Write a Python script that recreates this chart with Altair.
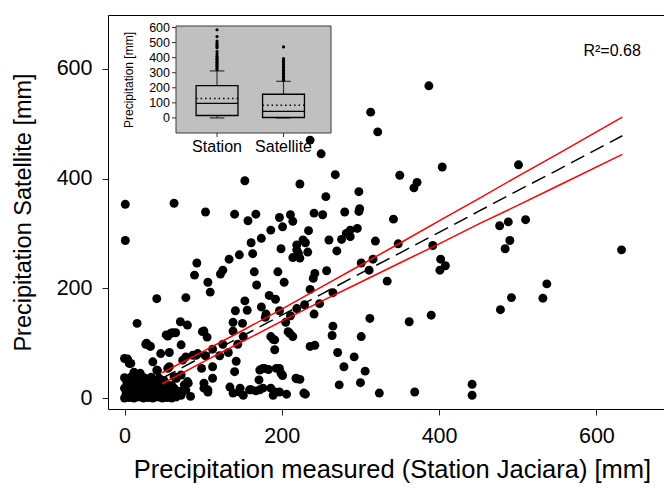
import altair as alt
import pandas as pd

FONT = "Liberation Sans"

# --- Scatter: station rainfall (x) vs satellite estimate (y), mm ---
station_mm = [
    501, 477, 488, 510, 490, 484, 632, 537, 532, 492, 478,
    387, 313, 322, 236, 250, 404, 268, 350, 372, 368, 223, 298, 256, 241, 252,
    280, 298, 299, 342, 234, 227, 230, 260, 276, 287, 287, 296, 282, 319, 348,
    392, 270, 233, 223, 301, 316, 311, 402, 408, 401, 257, 242, 240, 236, 334,
    265, 229, 248, 241, 312, 362, 390, 265, 264, 301, 236, 242, 271, 292, 279,
    306, 223, 273, 300, 230, 324, 369, 442, 442, 219, 221,
    153, 103, 140, 167, 157, 197, 211, 214, 201, 186, 174, 161, 163, 146, 133,
    199, 219, 214, 125, 122, 106, 109, 165, 168, 195, 203, 184, 192, 153, 141,
    156, 174, 180, 179, 197, 219, 205, 211, 138, 150, 151, 138, 144, 101, 186,
    189, 191, 208, 214, 125, 112, 132, 121, 103, 142, 140, 112, 98, 112, 176,
    183, 197, 201, 171, 219, 134, 147, 161, 172, 186, 189, 197, 206, 101, 106,
    138, 151,
    1, 63, 1, 92, 89, 41, 78, 16, 71, 80,
    59, 55, 65, 99, 105, 27, 33, 72, 46, 57, 91, 4, 8, 36, 42, 57, 74, 78, 87,
    63, 72, 80, 101, 106, 146, 159, 167, 176, 191, 172, 178, 193, 199, 218, 228,
    191, 210, 93, 41, 55, 66, 81, 0, 6, 53, 61, 28, 32,
    # dense block of small months near the origin
    0, 6, 12, 18, 24, 30, 36, 42, 48, 54, 60, 66,
    2, 9, 16, 23, 30, 37, 44, 51, 58, 65,
    0, 7, 14, 21, 28, 35, 42, 49, 56, 63,
    3, 10, 17, 24, 31, 38, 45, 52,
    0, 8, 16, 25, 34, 44,
    72, 78, 84, 76, 20, 12,
    3, 15, 27, 39, 51, 63,
    4, 19, 33, 47, 61, 70,
    6, 20, 34, 48, 60,
    5, 20, 36, 50,
]
satellite_mm = [
    425, 314, 321, 325, 287, 272, 270, 208, 182, 183, 161,
    569, 521, 485, 470, 445, 421, 407, 406, 393, 383, 390, 376, 367, 337, 334,
    339, 340, 345, 326, 305, 288, 283, 288, 289, 294, 306, 309, 300, 286, 281,
    278, 268, 266, 255, 246, 253, 233, 253, 241, 233, 232, 227, 218, 198, 213,
    192, 170, 172, 153, 145, 139, 151, 131, 114, 112, 94, 96, 83, 75, 57,
    49, 34, 24, 28, 7, 9, 11, 25, 5, 279, 264,
    396, 339, 335, 335, 323, 329, 334, 322, 312, 306, 291, 283, 263, 261, 253,
    272, 270, 256, 233, 226, 211, 193, 230, 206, 230, 211, 187, 180, 177, 159,
    160, 166, 153, 147, 159, 163, 138, 150, 138, 136, 112, 122, 98, 122, 112,
    107, 88, 121, 112, 98, 89, 83, 77, 77, 67, 48, 57, 54, 36, 54,
    52, 54, 41, 33, 35, 20, 18, 15, 15, 18, 5, 11, 7, 27, 15,
    9, 5,
    353, 355, 287, 246, 224, 181, 183, 136, 139, 133,
    118, 113, 119, 121, 111, 98, 94, 97, 81, 83, 78, 71, 63, 66, 50, 57, 69, 75, 78,
    39, 42, 30, 18, 11, 11, 15, 13, 18, 11, 51, 54, 54, 45, 36, 9,
    106, 118, 81, 51, 54, 36, 27, 72, 63, 115, 119, 100, 95,
    0, 1, 0, 2, 0, 1, 0, 2, 0, 1, 0, 2,
    9, 8, 10, 8, 9, 10, 8, 9, 10, 8,
    18, 17, 19, 18, 17, 19, 18, 17, 19, 18,
    28, 27, 29, 28, 27, 29, 28, 27,
    37, 38, 36, 37, 38, 36,
    5, 14, 3, 24, 45, 47,
    4, 4, 5, 4, 5, 4,
    13, 13, 14, 13, 13, 12,
    23, 23, 22, 23, 23,
    32, 32, 31, 32,
]

# --- Linear fit and its 95% confidence band ---
fit_x = [48, 100, 150, 200, 250, 300, 350, 400, 450, 500, 550, 633]
fit_mid = [36, 76, 113, 151, 189, 227, 264, 302, 340, 378, 415, 478]
fit_upper = [46, 85, 123, 162, 202, 242, 282, 323, 363, 404, 444, 512]
fit_lower = [26, 66, 103, 140, 176, 211, 246, 281, 317, 351, 386, 444]

r2_label = "R²=0.68"

# --- Inset box plot summary (mm) ---
box_names = ["Station", "Satellite"]
box_pos = [1, 2]
box_q1 = [16, 3]
box_median = [96, 44]
box_q3 = [215, 157]
box_mean = [129, 84]
box_low = [0, 0]
box_high = [312, 243]
station_outliers = [585, 540, 510, 495, 485, 475, 465, 440, 425, 410, 400,
                    390, 380, 370, 360, 350, 340, 330, 320]
satellite_outliers = [471, 394, 385, 375, 365, 355, 345, 335, 325, 315, 305,
                      295, 285, 275, 265, 255, 248]
inset_ticks = [0, 100, 200, 300, 400, 500, 600]

X_DOM = [-21, 686]
Y_DOM = [-20, 698]
IX_DOM = [0.383, 2.714]
IY_DOM = [-100, 610]

# ---------------- main scatter ----------------
scatter_df = pd.DataFrame({"station": station_mm, "satellite": satellite_mm})
fit_df = pd.DataFrame({"x": fit_x, "mid": fit_mid, "up": fit_upper, "lo": fit_lower})

xs = alt.Scale(domain=X_DOM, nice=False, zero=False)
ys = alt.Scale(domain=Y_DOM, nice=False, zero=False)

x_axis = alt.Axis(values=[0, 200, 400, 600], title="Precipitation measured (Station Jaciara) [mm]",
                  titlePadding=11, titleFontSize=25.5, titleX=284)
y_axis = alt.Axis(values=[0, 200, 400, 600], title="Precipitation Satellite [mm]",
                  titlePadding=21, titleFontSize=23.5)

points = alt.Chart(scatter_df).mark_circle(size=80, color="black", opacity=1).encode(
    x=alt.X("station:Q", scale=xs, axis=x_axis),
    y=alt.Y("satellite:Q", scale=ys, axis=y_axis),
)

upper_line = alt.Chart(fit_df).mark_line(color="#ff0000", strokeWidth=1.5).encode(
    x=alt.X("x:Q", scale=xs), y=alt.Y("up:Q", scale=ys))
lower_line = alt.Chart(fit_df).mark_line(color="#ff0000", strokeWidth=1.5).encode(
    x=alt.X("x:Q", scale=xs), y=alt.Y("lo:Q", scale=ys))
mid_line = alt.Chart(fit_df).mark_line(color="black", strokeWidth=1.5, strokeDash=[15, 7]).encode(
    x=alt.X("x:Q", scale=xs), y=alt.Y("mid:Q", scale=ys))

r2_text = alt.Chart(pd.DataFrame({"x": [620], "y": [633], "t": [r2_label]})).mark_text(
    font=FONT, fontSize=16, color="black", align="center", baseline="middle"
).encode(x=alt.X("x:Q", scale=xs), y=alt.Y("y:Q", scale=ys), text="t:N")

main = alt.layer(points, upper_line, lower_line, mid_line, r2_text)

# ---------------- inset box plot ----------------
ixs = alt.Scale(domain=IX_DOM, range=[68, 223], nice=False, zero=False)
iys = alt.Scale(domain=IY_DOM, range=[118, 11], nice=False, zero=False)

box_df = pd.DataFrame({
    "name": box_names, "pos": box_pos,
    "left": [p - 0.315 for p in box_pos], "right": [p + 0.315 for p in box_pos],
    "capl": [p - 0.11 for p in box_pos], "capr": [p + 0.11 for p in box_pos],
    "q1": box_q1, "med": box_median, "q3": box_q3, "mean": box_mean,
    "low": box_low, "high": box_high,
})
out_df = pd.DataFrame({
    "pos": [1] * len(station_outliers) + [2] * len(satellite_outliers),
    "v": station_outliers + satellite_outliers,
})
frame_df = pd.DataFrame({"x0": [IX_DOM[0]], "x1": [IX_DOM[1]], "y0": [IY_DOM[0]], "y1": [IY_DOM[1]]})
tick_df = pd.DataFrame({"v": inset_ticks, "lab": [str(v) for v in inset_ticks]})

def IX(f):
    return alt.X(f, scale=ixs, axis=None)

def IY(f):
    return alt.Y(f, scale=iys, axis=None)

panel = alt.Chart(frame_df).mark_rect(fill="#c0c0c0", stroke="#3a3a3a", strokeWidth=1).encode(
    x=IX("x0:Q"), x2="x1:Q", y=IY("y0:Q"), y2="y1:Q")

whisk_hi = alt.Chart(box_df).mark_rule(color="#333333", strokeWidth=1.2).encode(
    x=IX("pos:Q"), y=IY("q3:Q"), y2="high:Q")
whisk_lo = alt.Chart(box_df).mark_rule(color="#333333", strokeWidth=1.2).encode(
    x=IX("pos:Q"), y=IY("low:Q"), y2="q1:Q")
cap_hi = alt.Chart(box_df).mark_rule(color="#333333", strokeWidth=1.2).encode(
    x=IX("capl:Q"), x2="capr:Q", y=IY("high:Q"))
cap_lo = alt.Chart(box_df).mark_rule(color="#333333", strokeWidth=1.2).encode(
    x=IX("capl:Q"), x2="capr:Q", y=IY("low:Q"))
boxes = alt.Chart(box_df).mark_rect(fill="#c0c0c0", stroke="black", strokeWidth=1.3).encode(
    x=IX("left:Q"), x2="right:Q", y=IY("q1:Q"), y2="q3:Q")
medians = alt.Chart(box_df).mark_rule(color="black", strokeWidth=1.2).encode(
    x=IX("left:Q"), x2="right:Q", y=IY("med:Q"))
means = alt.Chart(box_df).mark_rule(color="black", strokeWidth=1.3, strokeDash=[1.5, 3]).encode(
    x=IX("left:Q"), x2="right:Q", y=IY("mean:Q"))
outliers = alt.Chart(out_df).mark_circle(size=10, color="black", opacity=1).encode(
    x=IX("pos:Q"), y=IY("v:Q"))

ytick_marks = alt.Chart(tick_df).mark_rule(color="#333333").encode(
    x=alt.value(64), x2=alt.value(68), y=IY("v:Q"))
ytick_labels = alt.Chart(tick_df).mark_text(
    font=FONT, fontSize=12.5, align="right", baseline="middle", color="black"
).encode(x=alt.value(62), y=IY("v:Q"), text="lab:N")
xtick_marks = alt.Chart(box_df).mark_rule(color="#333333").encode(
    x=IX("pos:Q"), y=alt.value(118), y2=alt.value(122))
xtick_labels = alt.Chart(box_df).mark_text(
    font=FONT, fontSize=16, align="center", baseline="middle", color="black"
).encode(x=IX("pos:Q"), y=alt.value(132), text="name:N")
inset_title = alt.Chart(pd.DataFrame({"t": ["Precipitation [mm]"]})).mark_text(
    font=FONT, fontSize=12, angle=270, align="center", baseline="middle", color="black"
).encode(x=alt.value(21), y=alt.value(65), text="t:N")

inset = alt.layer(panel, whisk_hi, whisk_lo, cap_hi, cap_lo, boxes, medians, means,
                  outliers, ytick_marks, ytick_labels, xtick_marks, xtick_labels, inset_title)

chart = alt.layer(inset, main).resolve_scale(x="independent", y="independent").properties(
    width=556, height=394,
    autosize=alt.AutoSizeParams(type="none"),
    padding={"left": 108, "top": 15, "right": 0, "bottom": 79},
    background="white",
).configure_view(stroke="black", strokeWidth=1).configure_axis(
    domain=False, grid=False, ticks=True, tickColor="#222222", tickSize=6, tickWidth=1,
    labelFont=FONT, labelFontSize=21.5, labelColor="black", labelPadding=10,
    titleFont=FONT, titleFontWeight="normal", titleColor="black",
)

chart.save("out.html", embed_options={"renderer": "svg", "actions": False})
